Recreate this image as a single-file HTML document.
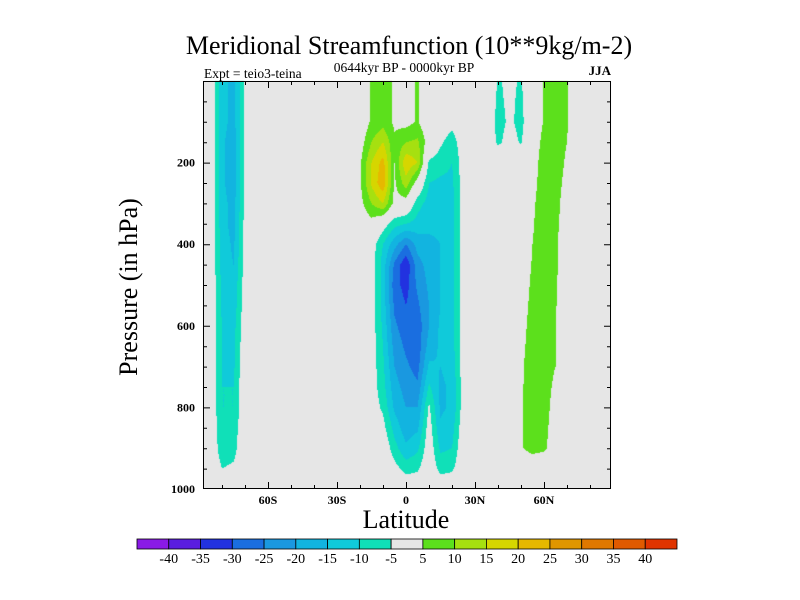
<!DOCTYPE html>
<html><head><meta charset="utf-8"><style>
body{margin:0;background:#fff;width:800px;height:600px;overflow:hidden;font-family:"Liberation Serif",serif}
svg text{font-family:"Liberation Serif",serif}
</style></head><body>
<div style="position:relative;width:800px;height:600px">
<canvas id="cv" width="800" height="600" style="position:absolute;left:0;top:0"></canvas>
<svg id="sv" width="800" height="600" style="position:absolute;left:0;top:0"></svg>
</div>
<script>
// Data
const lats = [-90,-85,-80,-75,-70,-65,-60,-55,-50,-45,-40,-35,-30,-25,-20,-15,-10,-5,0,5,10,15,20,25,30,35,40,45,50,55,60,65,70,75,80,85,90];
const levels = [0,50,100,150,200,250,300,350,400,450,500,550,600,650,700,750,800,850,900,950,1000];
const Z = new Array(21).fill(0);
const colS85 = Z;
const colS80 = [-13,-13,-13,-14,-14,-14,-13,-13,-12,-12,-11,-11,-10,-10,-10,-10,-10,-9,-8,-5,0];
const colS75 = [-17,-17,-17,-18,-18,-18,-17,-17,-16,-15,-14,-13,-12,-11,-11,-10,-10,-8,-7,-4,0];
const colS70 = [-4,-4,-4,-4,-4,-4,-4,-3,-3,-3,-2,-2,-1,-1,0,0,0,0,0,0,0];
const colS20 = [0,0,0,2,4,4,3,0,0,0,0,0,0,0,0,0,0,0,0,0,0];
const colS15 = [6,6,6,10,15,16,10,3,-2,-2,-2,-2,-2,-2,-2,-2,-2,-2,-1,0,0];
const colS10 = [8,8,8,15,22,24,15,-2,-10,-12,-12,-12,-11,-10,-9,-8,-6,-3,0,0,0];
const colS5  = [4,4,4,6,5,4,3,-8,-18,-26,-28,-26,-24,-22,-20,-18,-16,-12,-8,-3,0];
const colEq  = [3,3,3,10,19,13,2,-10,-25,-34,-32,-30,-28,-26,-24,-22,-20,-18,-14,-7,0];
const colN5  = [5.5,5.5,5.5,11,15,2,-8,-12,-18,-22,-24,-26,-28,-28,-27,-24,-20,-16,-11,-6,0];
const colN10 = [0,0,0,2,-6,-10,-12,-14,-16,-18,-19,-20,-20,-18,-14,-9,-4,-2,-1,0,0];
const colN15 = [0,0,0,-4,-8,-11,-13,-14,-15,-15,-15,-15,-14,-14,-15,-16,-16,-14,-11,-7,0];
const colN20 = [0,0,-3,-8,-10,-11,-12,-12,-12,-12,-12,-12,-12,-12,-13,-14,-14,-12,-10,-6,0];
const colN25 = [0,0,0,-1,-2,-2,-2,-2,-2,-2,-2,-2,-2,-2,-2,-2,-2,-1,0,0,0];
const colN40 = [-5.5,-6,-7,-6,0,0,0,0,0,0,0,0,0,0,0,0,0,0,0,0,0];
const colN45 = [-4,-4,-4,-3,0,0,0,0,0,0,0,0,0,0,0,0,0,0,0,0,0];
const colN50 = [-5.5,-6,-6.5,-5.5,0,0,0,1,0,1,2,2.5,3,3.5,4,4.2,4.5,4.5,4.5,0,0];
const colN55 = [0,0,0,1,2,3,4,4.5,5,5.5,6,6.5,7,7.5,8,8,8,7.5,7,0,0];
const colN60 = [5.5,5.5,5.5,7,8,8,8,8,8,8,8,8,8,7.5,7,7,7,6.5,6,0,0];
const colN65 = [8,8,8,8,8,7.5,7,6.5,6,6,6,5.5,5,5,5,4,3,2.5,2,0,0];
const colN70 = [5.5,5.5,5.5,5,4,3,2,1.5,1,0.5,0,0,0,0,0,0,0,0,0,0,0];
const psi = [Z,colS85,colS80,colS75,colS70,Z,Z,Z,Z,Z,Z,Z,Z,Z,colS20,colS15,colS10,colS5,colEq,colN5,colN10,colN15,colN20,colN25,Z,Z,colN40,colN45,colN50,colN55,colN60,colN65,colN70,Z,Z,Z,Z];
const cLevels = [-40,-35,-30,-25,-20,-15,-10,-5,5,10,15,20,25,30,35,40];
const cbLabels = ["-40","-35","-30","-25","-20","-15","-10","-5","5","10","15","20","25","30","35","40"];
const xTickLabels = ["60S","30S","0","30N","60N"];
const xTickVals = [-60,-30,0,30,60];
const yTickVals = [200,400,600,800,1000];
const colors = ["#8a1ae6","#5a1ee0","#2232e0","#1a6ee0","#1a98e0","#12b4e0","#10cada","#10e0b8","#e6e6e6","#5ce01c","#a6e010","#d6d600","#e6b800","#e09600","#e07800","#e05a00","#e03400"];

// Axes
const PL=203,PR=611,PT=81,PB=489;
const xOf = lat => 406 + 2.3*lat;
const yOf = p => PT + (PB-PT)*p/1000;
const latOf = x => (x-406)/2.3;
const pOf = y => (y-PT)*1000/(PB-PT);
function colorIdx(v){let n=0;for(const l of cLevels) if(v>=l) n++; return n;}
function val(lat,p){
  let fi=(lat-lats[0])/5, fj=p/50;
  fi=Math.max(0,Math.min(lats.length-1.0001,fi)); fj=Math.max(0,Math.min(levels.length-1.0001,fj));
  const i=Math.floor(fi), j=Math.floor(fj), a=fi-i, b=fj-j;
  return psi[i][j]*(1-a)*(1-b)+psi[i+1][j]*a*(1-b)+psi[i][j+1]*(1-a)*b+psi[i+1][j+1]*a*b;
}
function hex(c){return [parseInt(c.slice(1,3),16),parseInt(c.slice(3,5),16),parseInt(c.slice(5,7),16)];}
const rgb = colors.map(hex);
const ctx=document.getElementById('cv').getContext('2d');
const img=ctx.createImageData(PR-PL,PB-PT);
for(let y=PT;y<PB;y++)for(let x=PL;x<PR;x++){
  const c=rgb[colorIdx(val(latOf(x+0.5),pOf(y+0.5)))];
  const k=((y-PT)*(PR-PL)+(x-PL))*4;
  img.data[k]=c[0];img.data[k+1]=c[1];img.data[k+2]=c[2];img.data[k+3]=255;
}
ctx.putImageData(img,PL,PT);

const NS='http://www.w3.org/2000/svg', sv=document.getElementById('sv');
function mk(tag,attrs,txt){const e=document.createElementNS(NS,tag);for(const k in attrs)e.setAttribute(k,attrs[k]);if(txt!==undefined)e.textContent=txt;sv.appendChild(e);return e;}
let e;
e=mk('rect',{x:PL+0.5,y:PT+0.5,width:PR-PL-1,height:PB-PT-1,fill:'none',stroke:'#000','stroke-width':1});


for(let lat=-80;lat<=80;lat+=10){
  const x=xOf(lat)+0.5, L=(lat%30===0)?7:4;
  e=mk('path',{d:`M${x},${PB}v${-L}M${x},${PT}v${L}`,stroke:'#000','stroke-width':1});
  
  
}
for(let p=50;p<1000;p+=50){
  const y=yOf(p)+0.5, L=(p%200===0)?7:4;
  e=mk('path',{d:`M${PL},${y}h${L}M${PR},${y}h${-L}`,stroke:'#000','stroke-width':1});
  
  
}
xTickVals.forEach((v,i)=>{
  e=mk('text',{x:xOf(v),y:504,'font-size':12,'font-weight':'bold','text-anchor':'middle'},xTickLabels[i]);
  
  
});
yTickVals.forEach(v=>{
  e=mk('text',{x:195,y:yOf(v)+4,'font-size':12,'font-weight':'bold','text-anchor':'end'},String(v));
  
  
});
e=mk('text',{x:409,y:54,'font-size':26,'text-anchor':'middle'},'Meridional Streamfunction (10**9kg/m-2)');


e=mk('text',{x:404,y:72,'font-size':13.5,'text-anchor':'middle'},'0644kyr BP - 0000kyr BP');


e=mk('text',{x:204,y:78,'font-size':13.5},'Expt = teio3-teina');


e=mk('text',{x:611,y:75,'font-size':13,'font-weight':'bold','text-anchor':'end'},'JJA');


e=mk('text',{x:406,y:528,'font-size':26,'text-anchor':'middle'},'Latitude');


e=mk('text',{x:0,y:0,'font-size':26,'text-anchor':'middle',transform:'translate(137,287) rotate(-90)'},'Pressure (in hPa)');


const CB0=137,CB1=677,CBT=539,CBB=549,bw=(CB1-CB0)/colors.length;
colors.forEach((c,i)=>{
  e=mk('rect',{x:CB0+i*bw,y:CBT,width:bw,height:CBB-CBT,fill:c,stroke:'#000','stroke-width':0.8});
  
  
});
cbLabels.forEach((t,i)=>{
  e=mk('text',{x:CB0+(i+1)*bw,y:563,'font-size':14,'text-anchor':'middle'},t);
  
  
});
</script>
</body></html>
